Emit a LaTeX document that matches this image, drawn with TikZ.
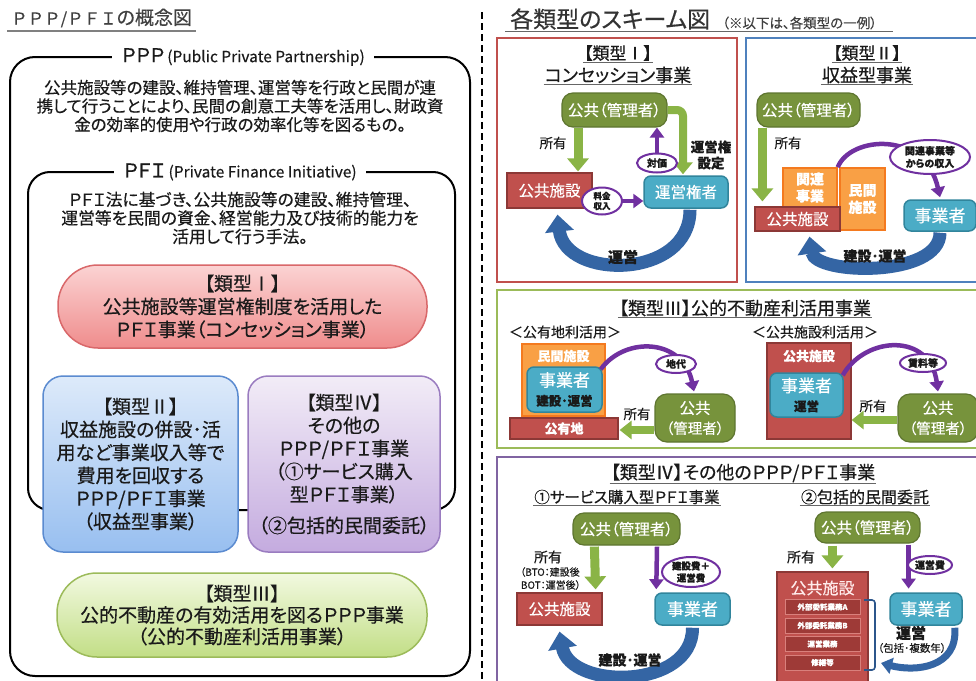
\documentclass[tikz,border=0pt]{standalone}
\usepackage{fontspec}
\setmainfont{Noto Sans CJK JP}[RawFeature=+palt, RawFeature={embolden=0.4}]
\newfontfamily\fwfont{Noto Sans CJK JP}[RawFeature={embolden=0.4}]
\usetikzlibrary{arrows.meta,shapes.geometric,calc}
\newcommand{\myfs}[2]{\fontsize{#1}{#2}\selectfont}
\definecolor{txt}{HTML}{1A1A1A}
\definecolor{grnbox}{HTML}{77933C}
\definecolor{grnboxd}{HTML}{5E7530}
\definecolor{grnarr}{HTML}{8AB446}
\definecolor{redbox}{HTML}{C0504D}
\definecolor{redboxd}{HTML}{8C3836}
\definecolor{tealbox}{HTML}{4BACC6}
\definecolor{tealboxd}{HTML}{31859C}
\definecolor{orgbox}{HTML}{F9A045}
\definecolor{orgboxd}{HTML}{F47A1F}
\definecolor{purp}{HTML}{7030A0}
\definecolor{bluarr}{HTML}{3465A4}
\definecolor{pnlred}{HTML}{C0504D}
\definecolor{pnlblue}{HTML}{4F81BD}
\definecolor{pnlgreen}{HTML}{9BBB59}
\definecolor{pnlpurp}{HTML}{8064A2}
\definecolor{t1top}{HTML}{FBD3D3}
\definecolor{t1bot}{HTML}{EF8C8C}
\definecolor{t1d}{HTML}{D9686A}
\definecolor{t2top}{HTML}{DDEAFA}
\definecolor{t2bot}{HTML}{98BFF0}
\definecolor{t2d}{HTML}{5B8BD0}
\definecolor{t4top}{HTML}{F2ECF7}
\definecolor{t4bot}{HTML}{C4ABDF}
\definecolor{t4d}{HTML}{9A7CC0}
\definecolor{t3top}{HTML}{F2F9E0}
\definecolor{t3bot}{HTML}{C2DE86}
\definecolor{t3d}{HTML}{9CBB5A}
\definecolor{strip}{HTML}{9E3A37}
\definecolor{stripd}{HTML}{D9807C}
\tikzset{
  lbl/.style={inner sep=0pt, text=txt, align=center},
  tybox/.style={line width=1.5pt, text=txt, align=center, inner sep=0pt, font=\myfs{19}{23}},
  gbox/.style={draw=grnboxd, fill=grnbox, line width=1.2pt, rounded corners=11pt, text=white, align=center, inner sep=0pt, font=\myfs{15.5}{19}},
  rbox/.style={draw=redboxd, fill=redbox, line width=1.2pt, text=white, align=center, inner sep=0pt, font=\myfs{15.5}{19}},
  tbox/.style={draw=tealboxd, fill=tealbox, line width=1.5pt, rounded corners=7pt, text=white, align=center, inner sep=0pt, font=\myfs{17}{20}},
  obox/.style={draw=orgboxd, fill=orgbox, line width=1.5pt, text=white, align=center, inner sep=0pt, font=\bfseries\myfs{14}{17}},
  stripbox/.style={draw=stripd, fill=strip, line width=0.8pt, text=white, inner sep=0pt, minimum width=75pt, minimum height=15pt, font=\bfseries\myfs{7.5}{9}},
  pell/.style={ellipse, draw=purp, line width=2pt, fill=white, inner sep=0pt, text=txt, align=center, font=\bfseries\myfs{10}{12}},
  garr/.style={draw=grnarr, line width=9pt, -{Triangle[width=21pt,length=13pt]}},
  parr/.style={draw=purp, line width=4.5pt, -{Triangle[width=14pt,length=10pt]}},
  barr/.style={draw=bluarr, line width=13pt, -{Triangle[width=28pt,length=17pt]}},
  panel/.style={line width=1.8pt},
  ulc/.style={draw=gray!80!black, line width=0.9pt},
  albl/.style={inner sep=0pt, text=txt, align=center, font=\myfs{13.5}{16}},
  blbl/.style={inner sep=0pt, text=txt, align=center, font=\bfseries\myfs{14}{16}},
}
\begin{document}
\begin{tikzpicture}[x=1pt,y=-1pt]
\useasboundingbox (0,0) rectangle (976,680);
\clip (0,0) rectangle (976,680);
\fill[white] (0,0) rectangle (976,680);

% ================= LEFT =================
\node[lbl, anchor=west, font=\myfs{19}{22}, text=black!75] (ltitle) at (11,18) {{\fwfont\myfs{16.5}{22}ＰＰＰ/ＰＦＩ}の概念図};
\draw[draw=gray, line width=2pt] (7,31) -- (196,31);

\draw[line width=2pt, rounded corners=25pt] (10,57) rectangle (470,676);
\node[fill=white, inner xsep=9pt, inner ysep=3pt, text=txt, font=\myfs{19}{22}] (ppplbl) at (243,57) {ＰＰＰ\,{\myfs{15.5}{18}(Public Private Partnership)}};
\node[lbl, font=\myfs{16.5}{18.5}] (pppdesc) at (240,106) {公共施設等の建設、維持管理、運営等を行政と民間が連\\携して行うことにより、民間の創意工夫等を活用し、財政資\\金の効率的使用や行政の効率化等を図るもの。};

\draw[line width=2pt, rounded corners=22pt] (28,172) rectangle (455,510);
\node[fill=white, inner xsep=9pt, inner ysep=3pt, text=txt, font=\myfs{19}{22}] (pfilbl) at (240,172) {ＰＦＩ\,{\myfs{15.5}{18}(Private Finance Initiative)}};
\node[lbl, font=\myfs{16.8}{18.5}] (pfidesc) at (240,218) {ＰＦＩ法に基づき、公共施設等の建設、維持管理、\\運営等を民間の資金、経営能力及び技術的能力を\\活用して行う手法。};

\node[tybox, top color=t1top, bottom color=t1bot, draw=t1d, minimum width=369pt, minimum height=83pt, rounded corners=40pt] (ty1) at (242.5,306.5) {【類型Ⅰ】\\公共施設等運営権制度を活用した\\ＰＦＩ事業（コンセッション事業）};
\node[tybox, top color=t2top, bottom color=t2bot, draw=t2d, minimum width=195pt, minimum height=176pt, rounded corners=20pt] (ty2) at (140.5,464) {【類型Ⅱ】\\収益施設の併設･活\\用など事業収入等で\\費用を回収する\\ＰＰＰ/ＰＦＩ事業\\（収益型事業）};
\node[tybox, top color=t4top, bottom color=t4bot, draw=t4d, minimum width=192pt, minimum height=176pt, rounded corners=20pt] (ty4) at (344,464) {【類型Ⅳ】\\その他の\\ＰＰＰ/ＰＦＩ事業\\（①サービス購入\\型ＰＦＩ事業）\\[8pt]（②包括的民間委託）};
\node[tybox, font=\myfs{19}{21.5}, top color=t3top, bottom color=t3bot, draw=t3d, minimum width=370pt, minimum height=84pt, rounded corners=40pt] (ty3) at (242,615) {【類型Ⅲ】\\公的不動産の有効活用を図るＰＰＰ事業\\（公的不動産利活用事業）};

\draw[dash pattern=on 7pt off 4pt, line width=2pt] (482,12) -- (482,680);

% ================= RIGHT =================
\node[lbl, anchor=west, font=\myfs{23}{26}, text=black!80] (rtitle) at (510,19) {各類型のスキーム図};
\node[lbl, anchor=west, font=\myfs{13.5}{15}, text=black!75] (rsub) at (722,23) {（※以下は、各類型の一例）};
\draw[ulc] (505,31) -- (893,31);

% ---- Type I panel
\draw[panel, draw=pnlred] (497,38) rectangle (737,282);
\node[lbl, font=\myfs{17}{20}, inner sep=1pt] (p1a) at (618,53) {【類型Ⅰ】};
\draw[ulc] (p1a.south west) -- (p1a.south east);
\node[lbl, font=\myfs{18}{21}, inner sep=1pt] (p1b) at (618,75) {コンセッション事業};
\draw[ulc] (p1b.south west) -- (p1b.south east);

\node[gbox, minimum width=105pt, minimum height=34pt] (g1) at (614.5,110) {公共（管理者）};
\node[rbox, minimum width=85pt, minimum height=35pt] (r1) at (549.5,190.5) {公共施設};
\node[tbox, font=\myfs{15.5}{19}, minimum width=84pt, minimum height=32pt] (t1) at (686,192) {運営権者};
\coordinate (a1) at (578,0);
\draw[garr] (g1.south -| a1) -- ($(r1.north -| a1)+(0,-1)$);
\node[albl] (l1a) at (553,143) {所有};
\draw[garr, line width=8pt, -{Triangle[width=19pt,length=12pt]}, rounded corners=6pt] (g1.east) -- (683,110) -- ($(t1.north -| 683,0)+(0,-1)$);
\node[albl, font=\bfseries\myfs{13.5}{16}] (l1b) at (711,155) {運営権\\設定};
\node[pell, minimum width=40pt, minimum height=19pt] (e1) at (657,163) {対価};
\draw[parr] (e1.north) -- (e1.north |- g1.south);
\node[pell, font=\bfseries\myfs{8.5}{10}, minimum width=40pt, minimum height=27pt] (e2) at (602,201) {料金\\収入};
\draw[parr] (e2.east) -- (t1.west |- e2.east);
\draw[barr] ($(t1.south)+(4,1)$) .. controls (690,280) and (565,280) .. ($(r1.south)+(8,6)$);
\node[blbl, font=\bfseries\myfs{15}{17}] (l1c) at (623,257) {運営};

% ---- Type II panel
\draw[panel, draw=pnlblue] (746,38) rectangle (990,282);
\node[lbl, font=\myfs{17}{20}, inner sep=1pt] (p2a) at (867,53) {【類型Ⅱ】};
\draw[ulc] (p2a.south west) -- (p2a.south east);
\node[lbl, font=\myfs{18}{21}, inner sep=1pt] (p2b) at (867,75) {収益型事業};
\draw[ulc] (p2b.south west) -- (p2b.south east);

\node[gbox, minimum width=103pt, minimum height=34pt] (g2) at (808.5,110) {公共（管理者）};
\node[obox, minimum width=54pt, minimum height=39pt] (o1) at (810,187.5) {関連\\事業};
\node[obox, minimum width=45pt, minimum height=62pt] (o2) at (862.5,199) {民間\\施設};
\node[rbox, minimum width=85pt, minimum height=24pt] (r2) at (797.5,219) {公共施設};
\node[tbox, minimum width=72pt, minimum height=31pt] (t2) at (940,215.5) {事業者};
\draw[garr] ($(g2.south west)+(6,0)$) -- ($(r2.north west)+(8,-5)$);
\node[albl] (l2a) at (788,143) {所有};
\draw[parr] (o1.north east) .. controls (850,136) and (925,130) .. ($(t2.north)+(0,-2)$);
\node[pell, font=\bfseries\myfs{10}{12.5}, minimum width=80pt, minimum height=34pt] (e3) at (930,157) {関連事業等\\からの収入};
\draw[barr] ($(t2.south)+(0,1)$) .. controls (940,278) and (815,275) .. ($(r2.south)+(12,5)$);
\node[blbl] (l2b) at (875,256) {建設･運営};

% ---- Type III panel
\draw[panel, draw=pnlgreen] (497,290) rectangle (990,448);
\node[lbl, font=\myfs{18}{21}, inner sep=1pt] (p3a) at (745,308) {【類型Ⅲ】公的不動産利活用事業};
\draw[ulc] (p3a.south west) -- (p3a.south east);
\node[lbl, font=\myfs{14}{16}] (p3b) at (565,332) {＜公有地利活用＞};
\node[lbl, font=\myfs{14}{16}] (p3c) at (815,332) {＜公共施設利活用＞};

\node[obox, minimum width=83pt, minimum height=72pt] (o3) at (563.5,380) {};
\node[lbl, text=white, font=\bfseries\myfs{13}{15}] (o3l) at (563.5,356) {民間施設};
\node[tbox, minimum width=75pt, minimum height=45pt] (t3) at (564.5,389.5) {事業者\\[-1pt]{\color{txt}\bfseries\myfs{12.5}{15}建設･運営}};
\node[rbox, font=\bfseries\myfs{13}{15}, minimum width=108pt, minimum height=21pt] (r3) at (564,428.5) {公有地};
\node[gbox, font=\myfs{15.5}{20}, rounded corners=12pt, minimum width=80pt, minimum height=48pt] (g3) at (695,418) {公共\\{\myfs{14.5}{18}（管理者）}};
\draw[garr, line width=8pt, -{Triangle[width=18pt,length=12pt]}] ($(g3.west)+(0,12)$) -- ($(r3.east)+(1,1.5)$);
\node[albl] (l3a) at (637,414) {所有};
\draw[parr] ($(t3.north east)+(-2,3)$) .. controls (625,336) and (683,338) .. ($(g3.north)+(-1,-2)$);
\node[pell, minimum width=40pt, minimum height=18pt] (e4) at (676,364) {地代};

\node[rbox, minimum width=84pt, minimum height=96pt] (r4) at (809,391) {};
\node[lbl, text=white, font=\bfseries\myfs{13}{15}] (r4l) at (809,356) {公共施設};
\node[tbox, minimum width=73pt, minimum height=44pt] (t4) at (806.5,395) {事業者\\[-1pt]{\color{txt}\bfseries\myfs{12.5}{15}運営}};
\node[gbox, font=\myfs{15.5}{20}, rounded corners=12pt, minimum width=80pt, minimum height=48pt] (g4) at (938,418) {公共\\{\myfs{14.5}{18}（管理者）}};
\draw[garr, line width=8pt, -{Triangle[width=18pt,length=12pt]}] ($(g4.west)+(0,2)$) -- ($(r4.east)+(0,29)$);
\node[albl] (l4a) at (873,406) {所有};
\draw[parr] ($(t4.north east)+(-1,3)$) .. controls (865,336) and (930,332) .. ($(g4.north)+(0,-2)$);
\node[pell, minimum width=46pt, minimum height=18pt] (e5) at (923,363) {賃料等};

% ---- Type IV panel
\draw[panel, draw=pnlpurp] (497,457) rectangle (990,700);
\node[lbl, font=\myfs{18}{21}, inner sep=1pt] (p4a) at (743,473) {【類型Ⅳ】その他のＰＰＰ/ＰＦＩ事業};
\draw[ulc] (p4a.south west) -- (p4a.south east);
\node[lbl, font=\myfs{15.5}{18}, inner sep=1pt] (p4b) at (627,497) {①サービス購入型ＰＦＩ事業};
\draw[ulc] (p4b.south west) -- (p4b.south east);
\node[lbl, font=\myfs{16}{18}, inner sep=1pt] (p4c) at (865,497) {②包括的民間委託};
\draw[ulc] (p4c.south west) -- (p4c.south east);

\node[gbox, minimum width=107pt, minimum height=32pt] (g5) at (626.5,529) {公共（管理者）};
\node[rbox, minimum width=85pt, minimum height=32pt] (r5) at (559.5,609) {公共施設};
\node[tbox, minimum width=75pt, minimum height=32pt] (t5) at (692.5,609) {事業者};
\draw[garr] ($(g5.south west)+(22,1)$) -- ($(r5.north east)+(-7,-3)$);
\node[albl, font=\myfs{14}{16}] (l5a) at (548,557) {所有};
\node[albl, font=\myfs{10}{13}] (l5b) at (550,578.5) {（BTO：建設後\\ \,BOT：運営後）};
\draw[parr] ($(g5.south)+(30.5,1)$) -- ($(t5.north west)+(2,-3)$);
\node[pell, font=\bfseries\myfs{9.5}{12}, minimum width=58pt, minimum height=30pt] (e6) at (691,572) {建設費＋\\運営費};
\draw[barr] ($(t5.south)+(0,2)$) .. controls (693,690) and (570,690) .. ($(r5.south)+(0,6)$);
\node[blbl] (l5c) at (630,660) {建設･運営};

\node[gbox, minimum width=105pt, minimum height=31pt] (g6) at (867.5,527.5) {公共（管理者）};
\node[rbox, minimum width=91pt, minimum height=123pt] (r6) at (822.5,633.5) {};
\node[lbl, text=white!92!red, font=\myfs{16}{18}] (r6l) at (822.5,588) {公共施設};
\node[stripbox] (s1) at (822.5,607) {外部委託業務A};
\node[stripbox] (s2) at (822.5,625.5) {外部委託業務B};
\node[stripbox] (s3) at (822.5,644) {運営業務};
\node[stripbox] (s4) at (822.5,662.5) {修繕等};
\draw[garr] ($(g6.south west)+(18,2)$) -- ($(r6.north west)+(56,-3)$);
\node[albl, font=\myfs{14}{16}] (l6a) at (801,557) {所有};
\draw[parr] ($(g6.south east)+(-12,1)$) -- ($(g6.south east)+(-12,45)$);
\node[pell, minimum width=44pt, minimum height=18pt] (e7) at (930,565) {運営費};
\node[tbox, minimum width=72pt, minimum height=32pt] (t6) at (926,609) {事業者};
\coordinate (bk1) at (864,600);
\coordinate (bk2) at (864,670);
\draw[draw=bluarr!85!black, line width=1.6pt, rounded corners=3pt] (bk1) -- (875,600) -- (875,670) -- (bk2);
\draw[barr, line width=7pt, -{Triangle[width=16pt,length=11pt]}] ($(t6.south east)+(-8,2)$) .. controls (958,668) and (915,672) .. ($(bk2)+(17,-7)$);
\node[blbl, font=\bfseries\myfs{15}{17}] (l6b) at (911,633) {運営};
\node[albl, font=\myfs{10.5}{12}] (l6c) at (912,648) {（包括･複数年）};

\end{tikzpicture}
\end{document}
